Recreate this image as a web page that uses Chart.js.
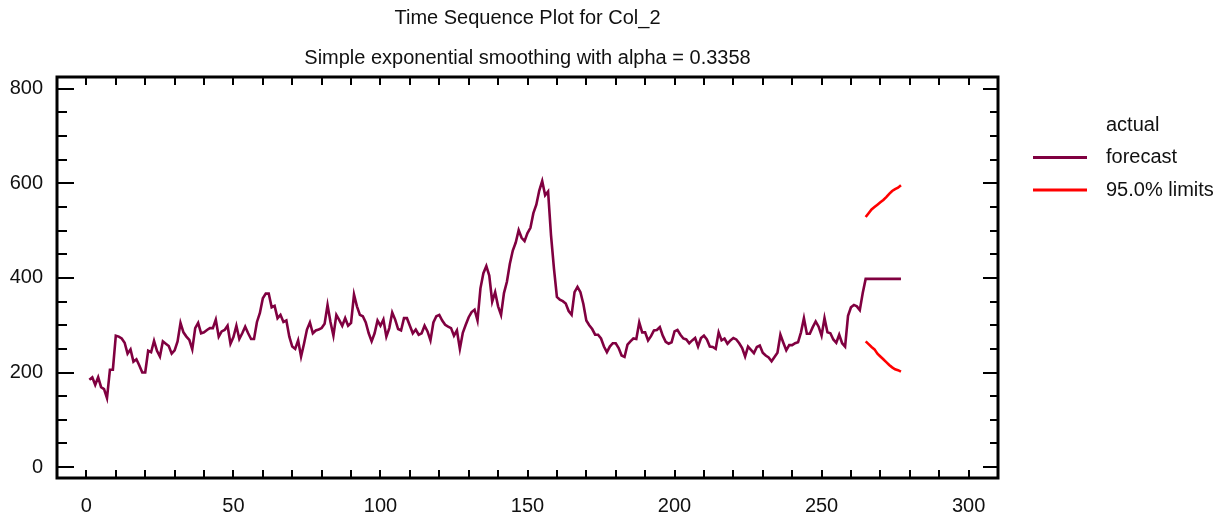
<!DOCTYPE html>
<html>
<head>
<meta charset="utf-8">
<title>Time Sequence Plot for Col_2</title>
<script src="https://cdn.jsdelivr.net/npm/chart.js@4/dist/chart.umd.min.js"></script>
<style>
  html, body { margin: 0; padding: 0; background: #fff; }
  #wrap { width: 1229px; height: 521px; position: relative; }
</style>
</head>
<body>
<div id="wrap"><canvas id="chart"></canvas></div>
<script>
// one-step-ahead forecasts, t = 1..264
const forecastPast = [
  185, 190, 174, 190, 169, 165, 146, 206, 206, 278,
  276, 272, 263, 240, 249, 223, 228, 215, 200, 200,
  246, 243, 267, 246, 234, 266, 261, 256, 240, 247,
  266, 305, 285, 276, 269, 249, 294, 305, 283, 285,
  290, 294, 294, 312, 276, 287, 290, 299, 261, 275,
  299, 271, 283, 297, 283, 271, 271, 307, 326, 357,
  367, 367, 338, 341, 315, 322, 307, 310, 276, 255,
  250, 268, 234, 261, 291, 306, 283, 289, 291, 294,
  303, 343, 307, 278, 322, 311, 299, 315, 299, 305,
  365, 340, 322, 319, 306, 283, 266, 283, 310, 299,
  312, 276, 294, 327, 312, 292, 289, 315, 315, 299,
  283, 291, 280, 283, 299, 287, 268, 306, 319, 322,
  310, 301, 297, 294, 278, 289, 250, 284, 301, 317,
  328, 333, 310, 378, 410, 425, 405, 350, 370, 340,
  322, 368, 392, 430, 458, 475, 501, 485, 478, 495,
  506, 537, 555, 585, 605, 575, 583, 490, 420, 360,
  354, 351, 346, 330, 322, 370, 381, 370, 345, 310,
  300, 292, 280, 280, 272, 255, 243, 255, 262, 262,
  252, 236, 233, 259, 266, 272, 271, 306, 285, 285,
  268, 277, 289, 290, 296, 278, 265, 261, 264, 287,
  290, 280, 272, 270, 262, 268, 273, 255, 273, 278,
  270, 255, 254, 250, 285, 268, 272, 261, 268, 273,
  270, 262, 252, 234, 255, 248, 241, 254, 257, 242,
  236, 232, 224, 233, 242, 280, 263, 247, 258, 258,
  262, 264, 285, 315, 282, 282, 296, 308, 297, 278,
  315, 285, 283, 270, 263, 280, 262, 255, 320, 338,
  343, 340, 332, 368
];
// forecasts and 95% limits, t = 265..277
const forecastFuture = [398, 398, 398, 398, 398, 398, 398, 398, 398, 398, 398, 398, 398];
const upperLimit = [529, 537, 545, 550, 555, 560, 565, 571, 578, 584, 588, 591, 596];
const lowerLimit = [266, 260, 254, 249, 240, 234, 228, 222, 216, 211, 207, 205, 202];

const xTickValues = [0, 50, 100, 150, 200, 250, 300];
const yTickValues = [0, 200, 400, 600, 800];
const legendLabels = ['actual', 'forecast', '95.0% limits'];

const maroon = '#800040';
const red = '#ff0000';

const futureStart = forecastPast.length + 1;
const forecastPoints = forecastPast.map((v, i) => ({ x: i + 1, y: v }))
  .concat(forecastFuture.map((v, i) => ({ x: futureStart + i, y: v })));
const upperPoints = upperLimit.map((v, i) => ({ x: futureStart + i, y: v }));
const lowerPoints = lowerLimit.map((v, i) => ({ x: futureStart + i, y: v }));

Chart.defaults.font.family = '"Liberation Sans", Arial, sans-serif';
Chart.defaults.color = '#111';

// frame with inward ticks on all four sides
const frameTicks = {
  id: 'frameTicks',
  afterDatasetsDraw(chart) {
    const { ctx, chartArea: a, scales: { x, y } } = chart;
    ctx.save();
    ctx.strokeStyle = '#000';
    ctx.lineWidth = 2;
    ctx.beginPath();
    for (let v = 0; v <= 300; v += 10) {
      const px = Math.round(x.getPixelForValue(v));
      ctx.moveTo(px, a.bottom); ctx.lineTo(px, a.bottom - 8);
      ctx.moveTo(px, a.top); ctx.lineTo(px, a.top + 8);
    }
    for (let v = 0; v <= 800; v += 50) {
      const py = Math.round(y.getPixelForValue(v));
      const major = v % 200 === 0;
      ctx.moveTo(a.left, py); ctx.lineTo(a.left + (major ? 17 : 10), py);
      ctx.moveTo(a.right, py); ctx.lineTo(a.right - (major ? 15 : 8), py);
    }
    ctx.stroke();
    ctx.lineWidth = 3;
    ctx.strokeRect(a.left, a.top, a.right - a.left, a.bottom - a.top);
    ctx.restore();
  }
};

// legend at the right, sample lines then labels
const sideLegend = {
  id: 'sideLegend',
  afterDraw(chart) {
    const { ctx, chartArea: a } = chart;
    const styles = [null, maroon, red];
    ctx.save();
    ctx.font = '20px "Liberation Sans", Arial, sans-serif';
    ctx.fillStyle = '#111';
    ctx.textBaseline = 'middle';
    legendLabels.forEach((label, i) => {
      const cy = a.top + 48 + i * 32.5;
      if (styles[i]) {
        ctx.strokeStyle = styles[i];
        ctx.lineWidth = 3;
        ctx.beginPath();
        ctx.moveTo(a.right + 35, cy);
        ctx.lineTo(a.right + 89, cy);
        ctx.stroke();
      }
      ctx.fillText(label, a.right + 108, cy);
    });
    ctx.restore();
  }
};

new Chart(document.getElementById('chart'), {
  type: 'line',
  data: {
    datasets: [
      {
        label: 'forecast',
        data: forecastPoints,
        borderColor: maroon,
        borderWidth: 2.6,
        pointRadius: 0,
        tension: 0
      },
      {
        label: '95.0% limits',
        data: upperPoints,
        borderColor: red,
        borderWidth: 2.6,
        pointRadius: 0,
        tension: 0
      },
      {
        label: '95.0% limits',
        data: lowerPoints,
        borderColor: red,
        borderWidth: 2.6,
        pointRadius: 0,
        tension: 0
      }
    ]
  },
  options: {
    responsive: true,
    maintainAspectRatio: false,
    animation: false,
    layout: { padding: { left: 0, right: 231, top: 0, bottom: 0 } },
    plugins: {
      legend: { display: false },
      tooltip: { enabled: false },
      title: {
        display: true,
        fullSize: false,
        text: 'Time Sequence Plot for Col_2',
        font: { size: 20, weight: 'normal' },
        color: '#111',
        padding: { top: 6, bottom: 6 }
      },
      subtitle: {
        display: true,
        fullSize: false,
        text: 'Simple exponential smoothing with alpha = 0.3358',
        font: { size: 20, weight: 'normal' },
        color: '#111',
        padding: { top: 10, bottom: 7 }
      }
    },
    scales: {
      x: {
        type: 'linear',
        min: -10,
        max: 310,
        afterBuildTicks: s => { s.ticks = xTickValues.map(v => ({ value: v })); },
        afterFit: s => { s.height = 43; },
        grid: { display: false, drawTicks: false },
        border: { display: false },
        ticks: { padding: 16, autoSkip: false, maxRotation: 0, font: { size: 20 }, color: '#111' }
      },
      y: {
        type: 'linear',
        min: -23,
        max: 825,
        afterBuildTicks: s => { s.ticks = yTickValues.map(v => ({ value: v })); },
        afterFit: s => { s.width = 57; },
        grid: { display: false, drawTicks: false },
        border: { display: false },
        ticks: { padding: 14, autoSkip: false, font: { size: 20 }, color: '#111' }
      }
    }
  },
  plugins: [frameTicks, sideLegend]
});
</script>
</body>
</html>
